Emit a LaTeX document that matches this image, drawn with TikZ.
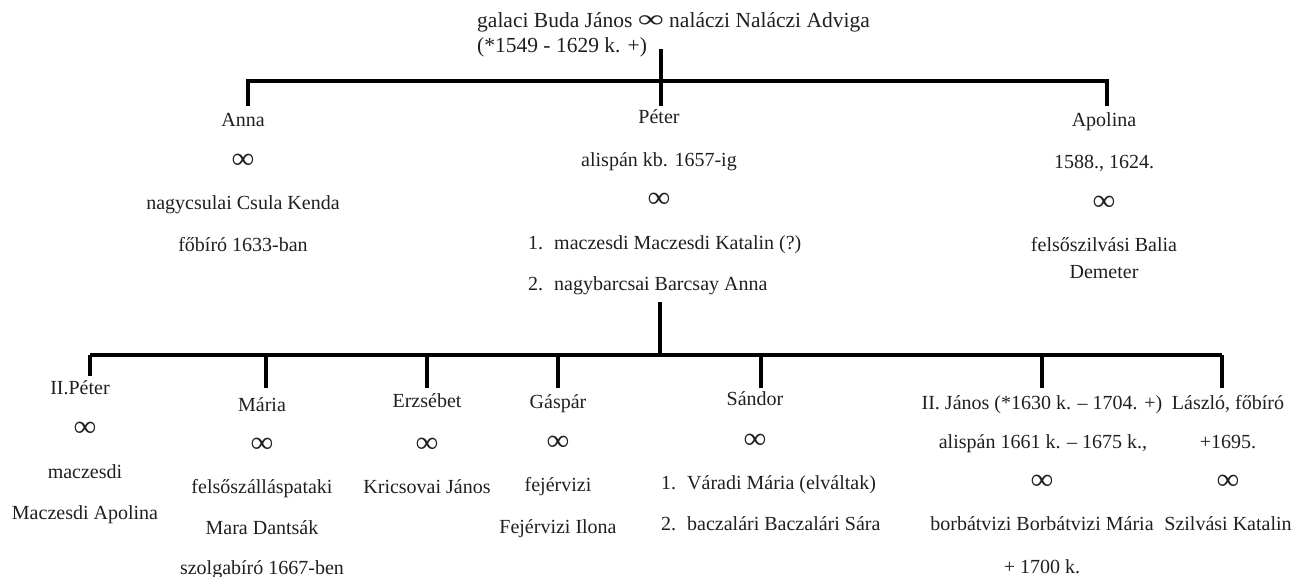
\documentclass[tikz,border=0pt]{standalone}
\usepackage{fontspec}
\usepackage{graphicx}
\setmainfont{Liberation Serif}
\newcommand{\marr}{\scalebox{1.6}[1.5]{∞}}
\newcommand{\marrt}{\scalebox{1.7}[1.15]{∞}}
\begin{document}
\begin{tikzpicture}[x=1pt,y=-1pt,
  lbl/.style={font=\fontsize{20}{24}\selectfont, inner sep=0pt, anchor=mid, yshift=-4pt, text=black!88},
  lbll/.style={lbl, anchor=mid west},
  ttl/.style={font=\fontsize{21.5}{25}\selectfont, inner sep=0pt, anchor=mid west, yshift=-3pt, text=black!88},
  bar/.style={line width=3.6pt, line join=miter}]
\useasboundingbox (0,0) rectangle (1297,577);

% title
\node[ttl] (t1) at (477,22) {galaci Buda János \marrt{} naláczi Naláczi Adviga};
\node[ttl] (t2) at (477,47) {(*1549 - 1629 k. +)};

% first generation connectors
\coordinate (ttop) at (661,49);
\coordinate (tbot) at (661,106);
\coordinate (tl) at (248,81);
\coordinate (tr) at (1107,81);
\coordinate (tlb) at (248,106);
\coordinate (trb) at (1107,106);
\draw[bar] (ttop) -- (tbot);
\draw[bar] (tlb) -- (tl) -- (tr) -- (trb);

% Anna
\node[lbl] (a1) at (243,120) {Anna};
\node[lbl] (a2) at (243,162) {\marr};
\node[lbl] (a3) at (243,203) {nagycsulai Csula Kenda};
\node[lbl] (a4) at (243,245) {főbíró 1633-ban};

% Péter
\node[lbl] (p1) at (659,117) {Péter};
\node[lbl] (p2) at (659,160) {alispán kb. 1657-ig};
\node[lbl] (p3) at (659,201) {\marr};
\node[lbll] (p4n) at (528,243) {1.};
\node[lbll] (p4) at (554,243) {maczesdi Maczesdi Katalin (?)};
\node[lbll] (p5n) at (528,284) {2.};
\node[lbll] (p5) at (554,284) {nagybarcsai Barcsay Anna};

% Apolina
\node[lbl] (ap1) at (1104,120) {Apolina};
\node[lbl] (ap2) at (1104,162) {1588., 1624.};
\node[lbl] (ap3) at (1104,204) {\marr};
\node[lbl] (ap4) at (1104,245) {felsőszilvási Balia};
\node[lbl] (ap5) at (1104,272) {Demeter};

% second generation connectors
\coordinate (ptop) at (660,302);
\coordinate (pbar) at (660,355);
\coordinate (bl) at (90,355);
\coordinate (br) at (1222,355);
\draw[bar] (ptop) -- (pbar);
\draw[bar] (bl) -- (br);
\coordinate (k1) at (90,376);
\coordinate (k2) at (266,388);
\coordinate (k3) at (427,388);
\coordinate (k4) at (558,388);
\coordinate (k5) at (761,388);
\coordinate (k6) at (1042,388);
\coordinate (k7) at (1222,388);
\foreach \k in {k1,k2,k3,k4,k5,k6,k7} \draw[bar] (\k |- bl) -- (\k);

% II. Péter
\node[lbl] (c1a) at (80,388) {II.Péter};
\node[lbl] (c1b) at (85,430) {\marr};
\node[lbl] (c1c) at (85,472) {maczesdi};
\node[lbl] (c1d) at (85,513) {Maczesdi Apolina};

% Mária
\node[lbl] (c2a) at (262,405) {Mária};
\node[lbl] (c2b) at (262,446) {\marr};
\node[lbl] (c2c) at (262,487) {felsőszálláspataki};
\node[lbl] (c2d) at (262,528) {Mara Dantsák};
\node[lbl] (c2e) at (262,568) {szolgabíró 1667-ben};

% Erzsébet
\node[lbl] (c3a) at (427,401) {Erzsébet};
\node[lbl] (c3b) at (427,446) {\marr};
\node[lbl] (c3c) at (427,487) {Kricsovai János};

% Gáspár
\node[lbl] (c4a) at (558,402) {Gáspár};
\node[lbl] (c4b) at (558,444) {\marr};
\node[lbl] (c4c) at (558,485) {fejérvizi};
\node[lbl] (c4d) at (558,527) {Fejérvizi Ilona};

% Sándor
\node[lbl] (c5a) at (755,399) {Sándor};
\node[lbl] (c5b) at (755,442) {\marr};
\node[lbll] (c5cn) at (661,483) {1.};
\node[lbll] (c5c) at (687,483) {Váradi Mária (elváltak)};
\node[lbll] (c5dn) at (661,524) {2.};
\node[lbll] (c5d) at (687,524) {baczalári Baczalári Sára};

% II. János
\node[lbl] (c6a) at (1042,403) {II. János (*1630 k. – 1704. +)};
\node[lbl] (c6b) at (1043,442) {alispán 1661 k. – 1675 k.,};
\node[lbl] (c6c) at (1042,483) {\marr};
\node[lbl] (c6d) at (1042,524) {borbátvizi Borbátvizi Mária};
\node[lbl] (c6e) at (1042,567) {+ 1700 k.};

% László
\node[lbl] (c7a) at (1228,403) {László, főbíró};
\node[lbl] (c7b) at (1228,442) {+1695.};
\node[lbl] (c7c) at (1228,483) {\marr};
\node[lbl] (c7d) at (1228,524) {Szilvási Katalin};
\end{tikzpicture}
\end{document}
